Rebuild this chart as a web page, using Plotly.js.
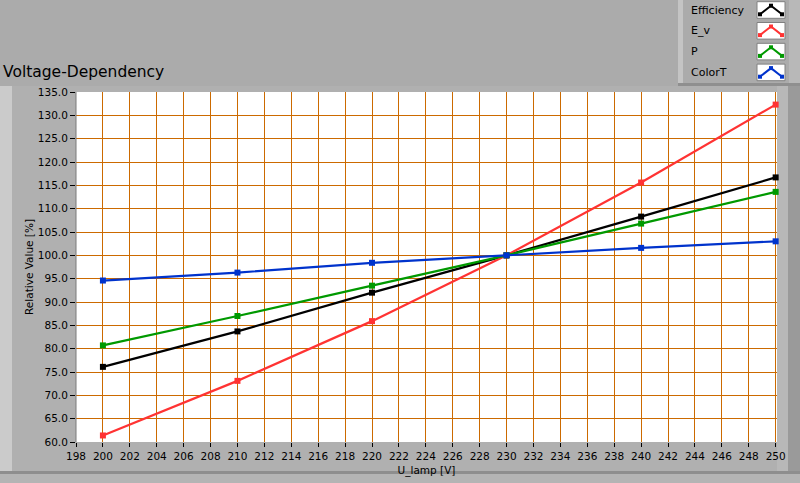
<!DOCTYPE html>
<html><head><meta charset="utf-8">
<script src="https://cdn.plot.ly/plotly-3.0.1.min.js"></script>
<style>html,body{margin:0;padding:0;background:#ababab;}#c{width:800px;height:483px;}</style>
</head><body><div id="c"></div>
<script>
const voltage = [200, 210, 220, 230, 240, 250];
const efficiency = [76.1, 83.7, 92.0, 100.0, 108.3, 116.7];
const eV = [61.4, 73.1, 85.9, 100.0, 115.6, 132.3];
const power = [80.7, 87.0, 93.5, 100.0, 106.8, 113.6];
const colorT = [94.6, 96.3, 98.4, 100.0, 101.6, 103.0];
const seriesNames = ['Efficiency', 'E_v', 'P', 'ColorT'];
const seriesColors = ['#000000', '#ff3333', '#009900', '#0033cc'];
const seriesData = [efficiency, eV, power, colorT];

const W = 800, H = 483, L = 76, R = 23, T = 92, B = 41;
const pw = W - L - R, ph = H - T - B;
const px = x => (x - L) / pw;
const py = y => (H - B - y) / ph;

const traces = seriesData.map((d, i) => ({
  x: voltage, y: d, type: 'scatter', mode: 'lines+markers', name: seriesNames[i],
  line: {color: seriesColors[i], width: 2.2},
  marker: {symbol: 'square', size: 6, color: seriesColors[i]},
  cliponaxis: false
}));

const shapes = [
  // panel
  {type:'rect', xref:'paper', yref:'paper', x0:px(0), x1:px(800), y0:py(471), y1:py(86), fillcolor:'#b0b0b0', line:{width:0}, layer:'below'},
  {type:'rect', xref:'paper', yref:'paper', x0:px(0), x1:px(12), y0:py(471), y1:py(86), fillcolor:'#cbcbcb', line:{width:0}, layer:'below'},
  {type:'rect', xref:'paper', yref:'paper', x0:px(777), x1:px(788), y0:py(471), y1:py(86), fillcolor:'#b8b8b8', line:{width:0}, layer:'below'},
  {type:'rect', xref:'paper', yref:'paper', x0:px(788), x1:px(800), y0:py(471), y1:py(86), fillcolor:'#9a9a9a', line:{width:0}, layer:'below'},
  {type:'rect', xref:'paper', yref:'paper', x0:px(0), x1:px(800), y0:py(474), y1:py(471), fillcolor:'#8e8e8e', line:{width:0}, layer:'below'},
  {type:'rect', xref:'paper', yref:'paper', x0:px(0), x1:px(800), y0:py(483), y1:py(474), fillcolor:'#b4b4b4', line:{width:0}, layer:'below'},
  // plot area background
  {type:'rect', xref:'paper', yref:'paper', x0:0, x1:1, y0:0, y1:1, fillcolor:'#ffffff', line:{width:0}, layer:'below'},
  // legend panel
  {type:'rect', xref:'paper', yref:'paper', x0:px(678), x1:px(683), y0:py(84), y1:py(0), fillcolor:'#c4c4c4', line:{width:0}, layer:'below'},
  {type:'rect', xref:'paper', yref:'paper', x0:px(678), x1:px(800), y0:py(86), y1:py(83), fillcolor:'#8f8f8f', line:{width:0}, layer:'below'},
  {type:'rect', xref:'paper', yref:'paper', x0:px(789), x1:px(800), y0:py(83), y1:py(0), fillcolor:'#b8b8b8', line:{width:0}, layer:'below'},
  // plot left border
  {type:'line', xref:'paper', yref:'paper', x0:0, x1:0, y0:0, y1:1, line:{color:'#7a7a7a', width:1}}
];
const annotations = [
  {text:'Voltage-Dependency', xref:'paper', yref:'paper', x:px(1), y:py(72), xanchor:'left', yanchor:'middle', showarrow:false, font:{family:'DejaVu Sans', size:15.5, color:'#000'}}
];
seriesNames.forEach((n, i) => {
  const cy = 10 + i * 20.8;
  annotations.push({text:n, xref:'paper', yref:'paper', x:px(689), y:py(cy), xanchor:'left', yanchor:'middle', showarrow:false, font:{family:'DejaVu Sans', size:11, color:'#000'}});
  const bx0 = 757, bx1 = 785, by0 = cy - 8.3, by1 = cy + 8.3;
  shapes.push({type:'rect', xref:'paper', yref:'paper', x0:px(bx0), x1:px(bx1), y0:py(by1), y1:py(by0), fillcolor:'#ffffff', line:{color:'#808080', width:1}});
  const gx = [bx0 + 3, (bx0 + bx1) / 2, bx1 - 3], gy = [by1 - 4, by0 + 4, by1 - 4];
  shapes.push({type:'path', xref:'paper', yref:'paper', path:`M ${px(gx[0])} ${py(gy[0])} L ${px(gx[1])} ${py(gy[1])} L ${px(gx[2])} ${py(gy[2])}`, line:{color:seriesColors[i], width:2}});
  gx.forEach((x, k) => {
    shapes.push({type:'rect', xref:'paper', yref:'paper', x0:px(x - 2), x1:px(x + 2), y0:py(gy[k] + 2), y1:py(gy[k] - 2), fillcolor:seriesColors[i], line:{width:0}});
  });
});

const layout = {
  width: W, height: H,
  margin: {l: L, r: R, t: T, b: B},
  paper_bgcolor: '#ababab', plot_bgcolor: '#ffffff',
  showlegend: false,
  font: {family: 'DejaVu Sans', size: 10, color: '#000'},
  xaxis: {
    range: [198, 250.1], dtick: 2, tick0: 198, showgrid: true, gridcolor: '#cc6a00', gridwidth: 1,
    ticks: 'outside', ticklen: 4, tickcolor: '#000', zeroline: false, showline: false,
    tickfont: {family: 'DejaVu Sans', size: 10.5},
    title: {text: 'U_lamp [V]', font: {family: 'DejaVu Sans', size: 10.5}, standoff: 6}
  },
  yaxis: {
    range: [60, 135], dtick: 5, tickformat: '.1f', showgrid: true, gridcolor: '#cc6a00', gridwidth: 1,
    ticks: 'outside', ticklen: 5, tickcolor: '#000', zeroline: false, showline: false,
    tickfont: {family: 'DejaVu Sans', size: 10.5},
    title: {text: 'Relative Value [%]', font: {family: 'DejaVu Sans', size: 10.5}, standoff: 2}
  },
  shapes: shapes, annotations: annotations
};
Plotly.newPlot('c', traces, layout, {staticPlot: true, displayModeBar: false});
</script></body></html>
